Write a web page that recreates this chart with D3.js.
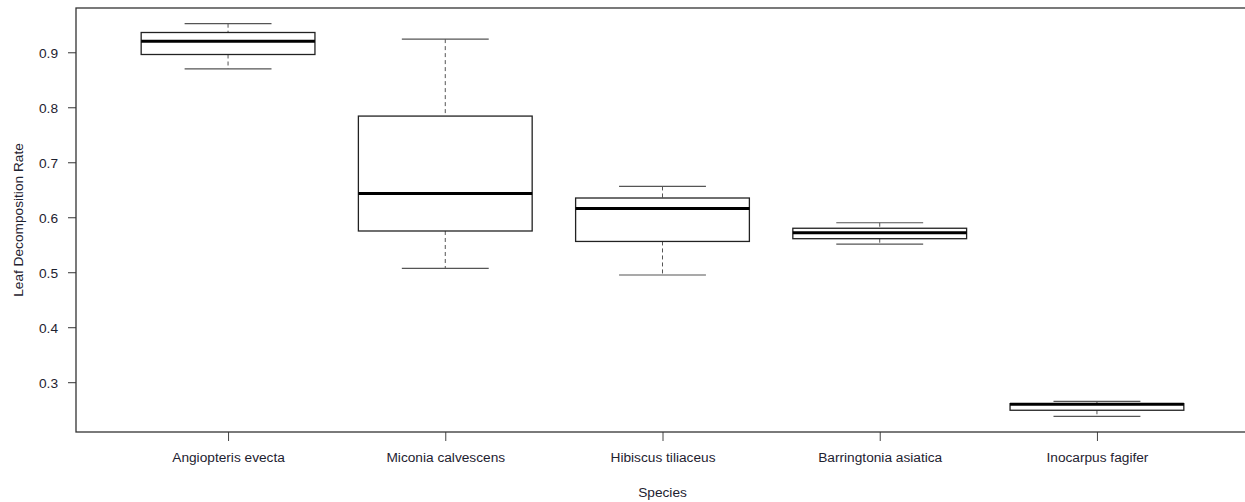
<!DOCTYPE html>
<html>
<head>
<meta charset="utf-8">
<script src="https://cdn.jsdelivr.net/npm/d3@7"></script>
<style>
  html, body { margin: 0; padding: 0; background: #ffffff; }
  svg { display: block; font-family: "Liberation Sans", Arial, sans-serif; }
</style>
</head>
<body>
<svg id="chart" width="1245" height="502"></svg>
<script>
// Species along the x axis
const species = [
  "Angiopteris evecta",
  "Miconia calvescens",
  "Hibiscus tiliaceus",
  "Barringtonia asiatica",
  "Inocarpus fagifer"
];

// Five-number summaries
const lowerWhisker = [0.870, 0.507, 0.495, 0.551, 0.238];
const lowerQuartile = [0.896, 0.575, 0.556, 0.561, 0.249];
const medians = [0.920, 0.643, 0.616, 0.572, 0.260];
const upperQuartile = [0.936, 0.784, 0.635, 0.580, 0.261];
const upperWhisker = [0.952, 0.924, 0.656, 0.590, 0.265];

const yTicks = [0.3, 0.4, 0.5, 0.6, 0.7, 0.8, 0.9];

const boxes = species.map((s, i) => ({
  name: s,
  pos: i + 1,
  lo: lowerWhisker[i],
  q1: lowerQuartile[i],
  med: medians[i],
  q3: upperQuartile[i],
  hi: upperWhisker[i]
}));

const svg = d3.select("#chart");
const margin = { top: 8, right: -4, bottom: 70, left: 76 };
const width = 1245, height = 502;
const plotLeft = margin.left, plotRight = width - margin.right;
const plotTop = margin.top, plotBottom = height - margin.bottom;

// R style ranges: 4% padding on both axes
const yMin = d3.min(lowerWhisker), yMax = d3.max(upperWhisker);
const pad = (yMax - yMin) * 0.04;
const y = d3.scaleLinear().domain([yMin - pad, yMax + pad]).range([plotBottom, plotTop]);
const x = d3.scaleLinear().domain([0.3, species.length + 0.7]).range([plotLeft, plotRight]);

const boxHalf = 0.4;   // box width 0.8 units
const capHalf = 0.2;   // staple half the box width
const textColor = "#1e2230";

// y axis
const yAxis = svg.append("g")
  .attr("transform", `translate(${plotLeft},0)`)
  .call(d3.axisLeft(y).tickValues(yTicks).tickSize(8).tickPadding(10).tickFormat(d3.format(".1f")));
yAxis.select(".domain").remove();
yAxis.selectAll("line").attr("stroke", "#333").attr("stroke-width", 1);
yAxis.selectAll("text")
  .attr("fill", textColor)
  .style("font-size", "13.7px")
  .attr("dy", "0.35em");

// x axis ticks and labels
const xAxis = svg.append("g")
  .attr("transform", `translate(0,${plotBottom})`)
  .call(d3.axisBottom(x).tickValues(boxes.map(d => d.pos)).tickSize(9).tickPadding(11)
    .tickFormat((d, i) => species[i]));
xAxis.select(".domain").remove();
xAxis.selectAll("line").attr("stroke", "#444").attr("stroke-width", 1);
xAxis.selectAll("text")
  .attr("fill", textColor)
  .style("font-size", "13.7px");

// boxes
const g = svg.append("g");
const bx = g.selectAll(".box").data(boxes).enter().append("g").attr("class", "box");

// dashed whiskers
bx.append("line")
  .attr("x1", d => x(d.pos)).attr("x2", d => x(d.pos))
  .attr("y1", d => y(d.hi)).attr("y2", d => y(d.q3))
  .attr("stroke", "#555").attr("stroke-dasharray", "4,3");
bx.append("line")
  .attr("x1", d => x(d.pos)).attr("x2", d => x(d.pos))
  .attr("y1", d => y(d.q1)).attr("y2", d => y(d.lo))
  .attr("stroke", "#555").attr("stroke-dasharray", "4,3");

// staples
bx.append("line")
  .attr("x1", d => x(d.pos - capHalf)).attr("x2", d => x(d.pos + capHalf))
  .attr("y1", d => y(d.hi)).attr("y2", d => y(d.hi))
  .attr("stroke", "#555").attr("stroke-width", 1.2);
bx.append("line")
  .attr("x1", d => x(d.pos - capHalf)).attr("x2", d => x(d.pos + capHalf))
  .attr("y1", d => y(d.lo)).attr("y2", d => y(d.lo))
  .attr("stroke", "#555").attr("stroke-width", 1.2);

// box body
bx.append("rect")
  .attr("x", d => x(d.pos - boxHalf))
  .attr("y", d => y(d.q3))
  .attr("width", d => x(d.pos + boxHalf) - x(d.pos - boxHalf))
  .attr("height", d => y(d.q1) - y(d.q3))
  .attr("fill", "#ffffff")
  .attr("stroke", "#222")
  .attr("stroke-width", 1.3);

// median
bx.append("line")
  .attr("x1", d => x(d.pos - boxHalf)).attr("x2", d => x(d.pos + boxHalf))
  .attr("y1", d => y(d.med)).attr("y2", d => y(d.med))
  .attr("stroke", "#000").attr("stroke-width", 3);

// frame
svg.append("rect")
  .attr("x", plotLeft).attr("y", plotTop)
  .attr("width", plotRight - plotLeft).attr("height", plotBottom - plotTop)
  .attr("fill", "none")
  .attr("stroke", "#333")
  .attr("stroke-width", 1.3);

// axis titles
svg.append("text")
  .attr("x", (plotLeft + plotRight) / 2)
  .attr("y", 496.5)
  .attr("text-anchor", "middle")
  .attr("fill", textColor)
  .style("font-size", "13.7px")
  .text("Species");

svg.append("text")
  .attr("transform", `translate(23,${(plotTop + plotBottom) / 2}) rotate(-90)`)
  .attr("text-anchor", "middle")
  .attr("fill", textColor)
  .style("font-size", "13.7px")
  .text("Leaf Decomposition Rate");
</script>
</body>
</html>
